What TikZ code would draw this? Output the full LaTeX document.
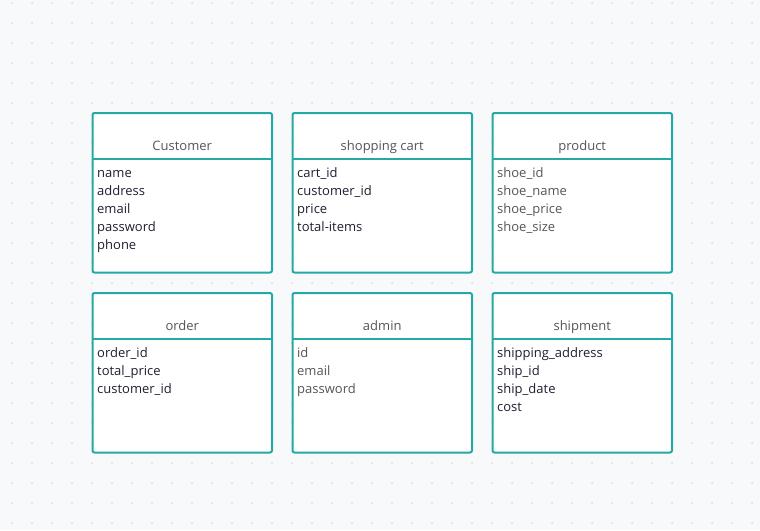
\documentclass[tikz,border=0pt]{standalone}
\usepackage{fontspec}
\setmainfont{Open Sans}
\definecolor{tealb}{RGB}{36,170,166}
\definecolor{bgc}{RGB}{248,249,251}
\definecolor{dotc}{RGB}{218,220,226}
\definecolor{darktxt}{RGB}{30,32,50}
\definecolor{greytxt}{RGB}{85,85,90}
\newcommand\myentity[5]{%
  \node[ebox] (#1) at (#2) {};
  \draw[sep] ([yshift=-46pt]#1.north west) -- ([yshift=-46pt]#1.north east);
  \node[etitle] (#1-t) at ([yshift=-37pt]#1.north) {#3};
  \foreach \f [count=\i] in {#5}
    \node[efield, text=#4] (#1-f\i) at ([xshift=4.5pt,yshift={-64.5pt-18pt*(\i-1)}]#1.north west) {\f};
}
\begin{document}
\begin{tikzpicture}[x=1pt,y=-1pt,
  ebox/.style={draw=tealb, line width=2pt, fill=white, rounded corners=2pt,
    minimum width=179.5pt, minimum height=159.5pt, inner sep=0pt, outer sep=0pt, anchor=north west},
  sep/.style={draw=tealb, line width=2pt},
  etitle/.style={anchor=base, inner sep=0pt, text=greytxt, font=\fontsize{13}{16}\selectfont},
  efield/.style={anchor=base west, inner sep=0pt, font=\fontsize{13}{16}\selectfont}]
\fill[bgc] (0,0) rectangle (760,530);
\useasboundingbox (0,0) rectangle (760,530);
\foreach \x in {12,32,...,752}
  \foreach \y in {3,23,...,523}
    \fill[dotc] (\x,\y) circle (1pt);
\myentity{customer}{92.5,113}{Customer}{darktxt}{name,address,email,password,phone}
\myentity{cart}{292.5,113}{shopping cart}{darktxt}{cart\_id,customer\_id,price,total-items}
\myentity{product}{492.5,113}{product}{greytxt}{shoe\_id,shoe\_name,shoe\_price,shoe\_size}
\myentity{order}{92.5,293}{order}{darktxt}{order\_id,total\_price,customer\_id}
\myentity{admin}{292.5,293}{admin}{greytxt}{id,email,password}
\myentity{shipment}{492.5,293}{shipment}{darktxt}{shipping\_address,ship\_id,ship\_date,cost}
\end{tikzpicture}
\end{document}
